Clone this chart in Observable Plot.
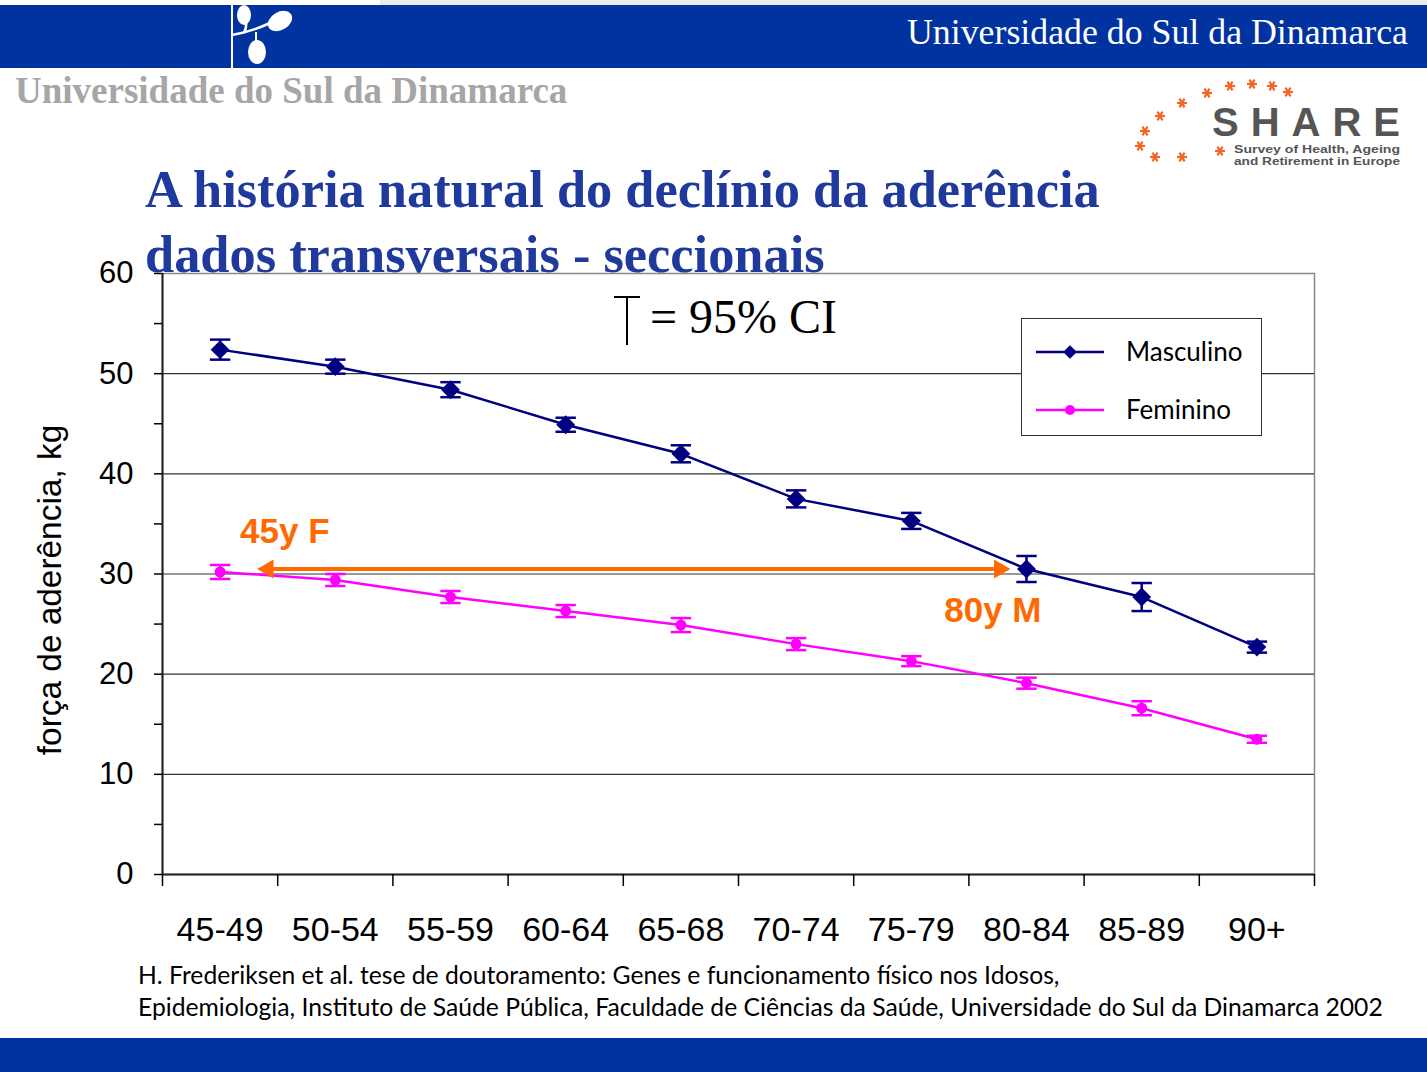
<!DOCTYPE html>
<html><head><meta charset="utf-8">
<script src="https://cdn.jsdelivr.net/npm/d3@7"></script>
<script src="https://cdn.jsdelivr.net/npm/@observablehq/plot@0.6"></script>
<style>
body{margin:0;width:1427px;height:1072px;position:relative;overflow:hidden;background:#fff;font-family:"Liberation Sans",Arial,sans-serif}
.abs{position:absolute;white-space:nowrap}
</style></head><body>
<!-- header -->
<div class="abs" style="left:380px;top:0;width:1047px;height:5px;background:#ececec"></div>
<div class="abs" style="left:0;top:5px;width:1427px;height:63px;background:#0033a0"></div>
<svg class="abs" style="left:220px;top:5px" width="90" height="63" viewBox="0 0 90 63">
  <line x1="12" y1="0" x2="12" y2="63" stroke="#fff" stroke-width="2"/>
  <path d="M12 30 C 25 28, 35 25, 50 18" stroke="#fff" stroke-width="2.5" fill="none"/>
  <path d="M24 28 C 28 20, 26 12, 24 4" stroke="#fff" stroke-width="2.5" fill="none"/>
  <ellipse cx="24" cy="10" rx="7" ry="10" fill="#fff"/>
  <ellipse cx="60" cy="16" rx="13" ry="9" fill="#fff" transform="rotate(-30 60 16)"/>
  <line x1="36" y1="27" x2="36" y2="36" stroke="#fff" stroke-width="2"/>
  <ellipse cx="37" cy="47" rx="9" ry="12" fill="#fff"/>
</svg>
<div class="abs" style="right:19px;top:11px;font-family:'Liberation Serif',serif;font-size:35.8px;color:#fff;line-height:42px">Universidade do Sul da Dinamarca</div>
<div class="abs" style="left:15px;top:69px;font-family:'Liberation Serif',serif;font-weight:bold;font-size:37px;color:#a6a6a6;line-height:44px">Universidade do Sul da Dinamarca</div>

<!-- SHARE logo -->
<svg class="abs" style="left:1120px;top:75px" width="300" height="100" viewBox="1120 75 300 100" id="share">
  <text x="1212" y="136" font-family="Liberation Sans" font-weight="bold" font-size="40" fill="#555" textLength="188" lengthAdjust="spacing">SHARE</text>
  <text x="1234" y="153" font-family="Liberation Sans" font-weight="bold" font-size="10" fill="#555" textLength="166" lengthAdjust="spacingAndGlyphs">Survey of Health, Ageing</text>
  <text x="1234" y="165" font-family="Liberation Sans" font-weight="bold" font-size="10" fill="#555" textLength="166" lengthAdjust="spacingAndGlyphs">and Retirement in Europe</text>
</svg>

<div id="chart" class="abs" style="left:0;top:250px"></div>

<!-- title -->
<div class="abs" style="left:145px;top:157px;font-family:'Liberation Serif',serif;font-weight:bold;font-size:52.4px;color:#1f3a9c;line-height:65px">A história natural do declínio da aderência<br>dados transversais - seccionais</div>

<!-- CI key -->
<svg class="abs" style="left:610px;top:292px" width="40" height="58">
  <line x1="4" y1="5" x2="30" y2="5" stroke="#000" stroke-width="2"/>
  <line x1="17" y1="5" x2="17" y2="53" stroke="#000" stroke-width="2"/>
</svg>
<div class="abs" style="left:650px;top:289px;font-family:'Liberation Serif',serif;font-size:48px;line-height:56px;color:#000">= 95% CI</div>

<!-- legend -->
<div class="abs" id="legend" style="left:1021px;top:318px;width:239px;height:116px;border:1.5px solid #333;background:#fff"></div>

<!-- y label -->
<div class="abs" style="left:-150px;top:570px;width:400px;height:40px;line-height:40px;text-align:center;transform:rotate(-90deg);font-size:33.4px;color:#000">força de aderência, kg</div>

<!-- caption -->
<div class="abs" style="left:138px;top:959px;font-family:'Lato',sans-serif;font-size:24.7px;line-height:32px;color:#000">H. Frederiksen et al. tese de doutoramento: Genes e funcionamento físico nos Idosos,<br>Epidemiologia, Instituto de Saúde Pública, Faculdade de Ciências da Saúde, Universidade do Sul da Dinamarca 2002</div>

<div class="abs" style="left:0;top:1038px;width:1427px;height:34px;background:#0033a0"></div>

<script>
// ---- data ----
const ageGroups = ["45-49", "50-54", "55-59", "60-64", "65-68", "70-74", "75-79", "80-84", "85-89", "90+"];
const maleMean   = [52.4, 50.7, 48.4, 44.9, 42.0, 37.5, 35.3, 30.5, 27.7, 22.7];
const maleCI     = [1.0, 0.7, 0.75, 0.7, 0.85, 0.85, 0.8, 1.3, 1.4, 0.55];
const femaleMean = [30.2, 29.4, 27.7, 26.3, 24.9, 23.0, 21.3, 19.1, 16.6, 13.5];
const femaleCI   = [0.7, 0.6, 0.6, 0.6, 0.7, 0.6, 0.5, 0.55, 0.7, 0.35];
const seriesNames = ["Masculino", "Feminino"];
const seriesColors = ["#000080", "#ff00ff"];
const yTicks = [0, 10, 20, 30, 40, 50, 60];
const yMinorTicks = d3.range(0, 61, 5);
const gridValues = [10, 20, 30, 40, 50];
const arrowColor = "#ff6a00";
const comparison = [{from: "45-49", to: "80-84", value: 30.5}];
const labelF = [{text: "45y F", group: "45-49", value: 34.2}];
const labelM = [{text: "80y M", group: "80-84", value: 26.3}];

const idx = g => ageGroups.indexOf(g);
const xDomain = [-0.5, ageGroups.length - 0.5];
const rows = [];
ageGroups.forEach((g, i) => {
  rows.push({i, g, sex: seriesNames[0], mean: maleMean[i], lo: maleMean[i] - maleCI[i], hi: maleMean[i] + maleCI[i]});
  rows.push({i, g, sex: seriesNames[1], mean: femaleMean[i], lo: femaleMean[i] - femaleCI[i], hi: femaleMean[i] + femaleCI[i]});
});
const male = rows.filter(d => d.sex === seriesNames[0]);
const female = rows.filter(d => d.sex === seriesNames[1]);

const cap = {draw(ctx, size) { const w = Math.sqrt(size); ctx.moveTo(-w / 2, 0); ctx.lineTo(w / 2, 0); }};

function series(data, color, symbol, r) {
  return [
    Plot.line(data, {x: "i", y: "mean", stroke: color, strokeWidth: 2.5}),
    Plot.ruleX(data, {x: "i", y1: "lo", y2: "hi", stroke: color, strokeWidth: 2.5}),
    Plot.dot(data, {x: "i", y: "lo", symbol: cap, r: 11.5, stroke: color, strokeWidth: 2.5}),
    Plot.dot(data, {x: "i", y: "hi", symbol: cap, r: 11.5, stroke: color, strokeWidth: 2.5}),
    Plot.dot(data, {x: "i", y: "mean", symbol, r, fill: color, stroke: "none"})
  ];
}

const chart = Plot.plot({
  width: 1427, height: 704,
  marginLeft: 162, marginRight: 113, marginTop: 23, marginBottom: 80,
  x: {domain: xDomain},
  y: {domain: [0, 60]},
  style: {background: "transparent", fontFamily: "Liberation Sans, Arial, sans-serif", color: "#000", overflow: "visible"},
  marks: [
    Plot.frame({stroke: "#888", strokeWidth: 1.5}),
    Plot.ruleY(gridValues, {stroke: "#333", strokeWidth: 1.2}),
    Plot.ruleY([0], {stroke: "#222", strokeWidth: 2}),
    Plot.ruleX([xDomain[0]], {stroke: "#222", strokeWidth: 2}),
    Plot.axisY({ticks: yMinorTicks, tickFormat: d => yTicks.includes(d) ? d : "", tickSize: 8, tickPadding: 21, fontSize: 31, label: null, strokeWidth: 1.5}),
    Plot.axisX({ticks: d3.range(xDomain[0], xDomain[1] + 0.01, 1), tickFormat: () => "", tickSize: 12, label: null, strokeWidth: 1.5}),
    Plot.axisX({ticks: d3.range(ageGroups.length), tickFormat: i => ageGroups[i], tickSize: 0, tickPadding: 42, fontSize: 34, label: null}),
    ...series(female, seriesColors[1], "circle", 5.5),
    ...series(male, seriesColors[0], "diamond2", 8.5),
    Plot.arrow(comparison, {x1: d => idx(d.from), x2: d => idx(d.to), y1: "value", y2: "value", stroke: arrowColor, strokeWidth: 4, headLength: 0, insetStart: 50, insetEnd: 28}),
    Plot.dot(comparison, {x: d => idx(d.from), y: "value", symbol: "triangle", r: 7, rotate: -90, fill: arrowColor, dx: 48}),
    Plot.dot(comparison, {x: d => idx(d.to), y: "value", symbol: "triangle", r: 7, rotate: 90, fill: arrowColor, dx: -27}),
    Plot.text(labelF, {x: d => idx(d.group), y: "value", text: "text", textAnchor: "start", dx: 20, fill: arrowColor, fontSize: 35, fontWeight: "bold"}),
    Plot.text(labelM, {x: d => idx(d.group), y: "value", text: "text", textAnchor: "end", dx: 15, fill: arrowColor, fontSize: 35, fontWeight: "bold"})
  ]
});
document.getElementById("chart").appendChild(chart);

// legend
const lg = d3.select("#legend").append("svg").attr("width", 239).attr("height", 116);
seriesNames.forEach((name, k) => {
  const y = 33 + k * 58;
  lg.append("line").attr("x1", 14).attr("x2", 82).attr("y1", y).attr("y2", y).attr("stroke", seriesColors[k]).attr("stroke-width", 2.5);
  lg.append("path").attr("transform", `translate(48,${y})`).attr("d", d3.symbol(k === 0 ? d3.symbolDiamond2 : d3.symbolCircle, k === 0 ? 120 : 80)()).attr("fill", seriesColors[k]);
  lg.append("text").attr("x", 104).attr("y", y).attr("dy", "0.35em").attr("font-family", "Lato, sans-serif").attr("font-size", 26).text(name);
});

// SHARE stars
const stars = [[1288,92],[1272,86],[1252,84],[1230,86],[1207,93],[1182,103],[1160,116],[1145,131],[1140,146],[1155,157],[1182,157],[1220,151]];
const sh = d3.select("#share");
stars.forEach(([x, y]) => {
  [0, 60, 120].forEach(a => {
    sh.append("line").attr("x1", x - 5).attr("x2", x + 5).attr("y1", y).attr("y2", y)
      .attr("transform", `rotate(${a} ${x} ${y})`).attr("stroke", "#f26522").attr("stroke-width", 2.2);
  });
});
</script>
</body></html>
